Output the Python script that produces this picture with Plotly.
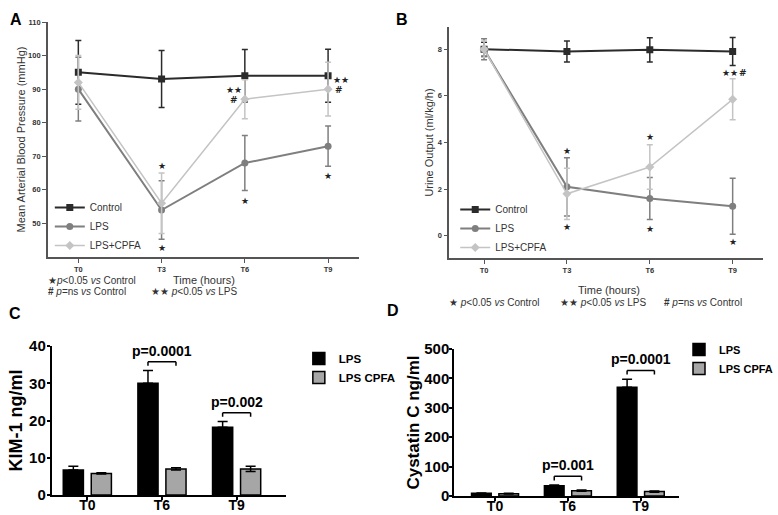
import plotly.graph_objects as go

times = [0, 3, 6, 9]
time_labels = ['T0', 'T3', 'T6', 'T9']

# A - mean arterial blood pressure (mmHg)
map_control = [95, 93, 94, 94]
map_control_err = [9.5, 8.5, 7.8, 7.9]
map_lps = [90, 54, 68, 73]
map_lps_err = [9.5, 8.7, 8.2, 6]
map_cpfa = [92, 56, 87, 90]
map_cpfa_err = [8, 9, 5.8, 8]

# B - urine output (ml/kg/h)
uo_control = [8.0, 7.9, 7.97, 7.9]
uo_control_err = [0.3, 0.45, 0.52, 0.6]
uo_lps = [8.0, 2.1, 1.6, 1.27]
uo_lps_err = [0.45, 1.25, 0.9, 1.2]
uo_cpfa = [8.0, 1.8, 2.95, 5.85]
uo_cpfa_err = [0.35, 1.1, 0.95, 0.88]

# C / D - biomarkers
bar_groups = ['T0', 'T6', 'T9']
kim_lps = [6.7, 30, 18.2]
kim_lps_err = [1.0, 3.4, 1.5]
kim_cpfa = [5.8, 7, 7]
kim_cpfa_err = [0.15, 0.3, 0.7]
kim_p = ['', 'p=0.0001', 'p=0.002']

cys_lps = [9, 35, 370]
cys_lps_err = [1, 2, 27]
cys_cpfa = [8, 18, 15]
cys_cpfa_err = [1, 2, 2]
cys_p = ['', 'p=0.001', 'p=0.0001']

C_DARK = '#2b2b2b'
C_MID = '#7f7f7f'
C_LIGHT = '#c4c4c4'
FONT = 'Arial, Liberation Sans, sans-serif'

W, H = 778, 515


def px(x):
    return x / W


def py(y):
    return 1 - y / H


fig = go.Figure()


def line_trace(y, err, name, color, symbol, xa, ya, leg, width=2):
    return go.Scatter(
        x=times, y=y, name=name, mode='lines+markers',
        line=dict(color=color, width=width),
        marker=dict(color=color, symbol=symbol, size=7),
        error_y=dict(type='data', array=err, color=color, thickness=1.5, width=3),
        xaxis=xa, yaxis=ya, legend=leg,
    )


for xa, ya, leg, data in [
    ('x', 'y', 'legend', [(map_control, map_control_err), (map_lps, map_lps_err), (map_cpfa, map_cpfa_err)]),
    ('x2', 'y2', 'legend4', [(uo_control, uo_control_err), (uo_lps, uo_lps_err), (uo_cpfa, uo_cpfa_err)]),
]:
    fig.add_trace(line_trace(data[0][0], data[0][1], 'Control', C_DARK, 'square', xa, ya, leg))
    fig.add_trace(line_trace(data[1][0], data[1][1], 'LPS', C_MID, 'circle', xa, ya, leg))
    fig.add_trace(line_trace(data[2][0], data[2][1], 'LPS+CPFA', C_LIGHT, 'diamond', xa, ya, leg, 1.5))

# bar panels
for xa, ya, leg, lps, lps_err, cpfa, cpfa_err in [
    ('x3', 'y3', 'legend2', kim_lps, kim_lps_err, kim_cpfa, kim_cpfa_err),
    ('x4', 'y4', 'legend3', cys_lps, cys_lps_err, cys_cpfa, cys_cpfa_err),
]:
    fig.add_trace(go.Bar(
        x=bar_groups, y=lps, name='LPS', xaxis=xa, yaxis=ya, legend=leg,
        marker=dict(color='black', line=dict(color='black', width=1.5)),
        error_y=dict(type='data', symmetric=False, array=lps_err, arrayminus=[0, 0, 0],
                     color='black', thickness=1.5, width=5),
    ))
    fig.add_trace(go.Bar(
        x=bar_groups, y=cpfa, name='LPS CPFA', xaxis=xa, yaxis=ya, legend=leg,
        marker=dict(color='#a6a6a6', line=dict(color='black', width=1.5)),
        error_y=dict(type='data', array=cpfa_err, color='black', thickness=1.5, width=5),
    ))

bargap = 0.25
off = (1 - bargap) / 4

# p-value brackets
for xr, yr, lps, lps_err, cpfa, cpfa_err, labels, ymax in [
    ('x3', 'y3', kim_lps, kim_lps_err, kim_cpfa, kim_cpfa_err, kim_p, 40),
    ('x4', 'y4', cys_lps, cys_lps_err, cys_cpfa, cys_cpfa_err, cys_p, 500),
]:
    for i, lab in enumerate(labels):
        if not lab:
            continue
        top = max(lps[i] + lps_err[i], cpfa[i] + cpfa_err[i])
        yb = top + 0.06 * ymax
        yd = yb - 0.028 * ymax
        for x0, y0, x1, y1 in [(i - off, yd, i - off, yb), (i - off, yb, i + off, yb), (i + off, yb, i + off, yd)]:
            fig.add_shape(type='line', xref=xr, yref=yr, x0=x0, y0=y0, x1=x1, y1=y1,
                          line=dict(color='black', width=1.5))
        fig.add_annotation(x=i, y=yb, xref=xr, yref=yr, text='<b>%s</b>' % lab, showarrow=False,
                           yanchor='bottom', yshift=1, font=dict(size=14, color='black', family=FONT))

# significance marks in A and B
STAR = '★'
marks_a = [
    (3, map_cpfa[1] + map_cpfa_err[1] + 2, STAR),
    (3, map_lps[1] - map_lps_err[1] - 2.5, STAR),
    (6, map_lps[2] - map_lps_err[2] - 3, STAR),
    (9, map_lps[3] - map_lps_err[3] - 3, STAR),
    (5.6, 89.8, STAR + STAR),
    (5.6, 86.8, '<b>#</b>'),
    (9.45, 92.7, STAR + STAR),
    (9.38, 89.7, '<b>#</b>'),
]
for x, y, t in marks_a:
    fig.add_annotation(x=x, y=y, xref='x', yref='y', text=t, showarrow=False,
                       font=dict(size=9, color='#222', family='DejaVu Sans'))

marks_b = [
    (3, uo_lps[1] + uo_lps_err[1] + 0.3, STAR),
    (3, uo_cpfa[1] - uo_cpfa_err[1] - 0.32, STAR),
    (6, uo_cpfa[2] + uo_cpfa_err[2] + 0.35, STAR),
    (6, uo_lps[2] - uo_lps_err[2] - 0.4, STAR),
    (9, uo_lps[3] - uo_lps_err[3] - 0.35, STAR),
    (8.9, 6.96, STAR + STAR),
    (9.38, 6.96, '<b>#</b>'),
]
for x, y, t in marks_b:
    fig.add_annotation(x=x, y=y, xref='x2', yref='y2', text=t, showarrow=False,
                       font=dict(size=9, color='#222', family='DejaVu Sans'))

# footnotes
foot_font = dict(size=10, color='#333', family=FONT)
title_font = dict(size=11, color='#333', family=FONT)
footnotes = [
    (46, 280, 'left', STAR + '<i>p</i>&lt;0.05 <i>vs</i> Control', foot_font),
    (46, 291, 'left', '<b>#</b> <i>p</i>=ns <i>vs</i> Control', foot_font),
    (150, 291, 'left', STAR + STAR + ' <i>p</i>&lt;0.05 <i>vs</i> LPS', foot_font),
    (205, 280, 'center', 'Time (hours)', title_font),
    (611, 290, 'center', 'Time (hours)', title_font),
    (449, 302, 'left', STAR + ' <i>p</i>&lt;0.05 <i>vs</i> Control', foot_font),
    (560, 302, 'left', STAR + STAR + ' <i>p</i>&lt;0.05 <i>vs</i> LPS', foot_font),
    (665, 302, 'left', '<b>#</b> <i>p</i>=ns <i>vs</i> Control', foot_font),
]
for fx, fy, anchor, text, font in footnotes:
    fig.add_annotation(x=px(fx), y=py(fy), xref='paper', yref='paper', xanchor=anchor,
                       text=text, showarrow=False, font=font)

# panel letters
for lx, ly, letter in [(8, 9, 'A'), (404, 9, 'B'), (7, 313, 'C'), (395, 310, 'D')]:
    fig.add_annotation(x=px(lx), y=py(ly), xref='paper', yref='paper', text='<b>%s</b>' % letter,
                       showarrow=False, font=dict(size=16, color='black', family=FONT))

small_ticks = dict(family=FONT, size=7.5, color='#333', weight='bold')
line_axis = dict(showline=True, linecolor='#555', linewidth=1.5, ticks='outside', ticklen=4,
                 tickcolor='#555', showgrid=False, zeroline=False, automargin=False)
bar_axis = dict(showline=True, linecolor='black', linewidth=2, ticks='outside', ticklen=3,
                tickcolor='black', tickwidth=1.5, showgrid=False, zeroline=False, automargin=False,
                tickfont=dict(family=FONT, size=15, color='black', weight='bold'))
bar_xticks = dict(family=FONT, size=14, color='black', weight='bold')
legend_base = dict(xanchor='left', yanchor='top', bgcolor='rgba(0,0,0,0)', tracegroupgap=0, itemwidth=30)

fig.update_layout(
    width=W, height=H,
    margin=dict(l=0, r=0, t=0, b=0),
    plot_bgcolor='white', paper_bgcolor='white',
    font=dict(family=FONT),
    barmode='group', bargap=bargap, bargroupgap=0.28,
    xaxis=dict(domain=[px(48), px(360)], range=[-1.1, 10.1], tickvals=times, ticktext=time_labels,
               tickfont=small_ticks, anchor='y', **line_axis),
    yaxis=dict(domain=[py(257), py(22)], range=[40, 110], tickvals=[50, 60, 70, 80, 90, 100, 110],
               tickfont=small_ticks, anchor='x',
               title=dict(text='Mean Arterial Blood Pressure (mmHg)', standoff=0, font=title_font),
               **line_axis),
    xaxis2=dict(domain=[px(451), px(766)], range=[-1.26, 10.1], tickvals=times, ticktext=time_labels,
                tickfont=small_ticks, anchor='y2', **line_axis),
    yaxis2=dict(domain=[py(258), py(27)], range=[-0.95, 8.95], tickvals=[0, 2, 4, 6, 8],
                tickfont=small_ticks, anchor='x2',
                title=dict(text='Urine Output (ml/kg/h)', standoff=2, font=title_font), **line_axis),
    xaxis3=dict(domain=[px(52), px(287)], range=[-0.476, 2.66], anchor='y3', ticklabelstandoff=-7,
                **{**bar_axis, 'tickfont': bar_xticks}),
    yaxis3=dict(domain=[py(495), py(346)], range=[0, 40], tickvals=[0, 10, 20, 30, 40], anchor='x3',
                ticklabelstandoff=-2,
                title=dict(text='<b>KIM-1 ng/ml</b>', standoff=2,
                           font=dict(size=18, color='black', family=FONT)), **bar_axis),
    xaxis4=dict(domain=[px(456), px(682)], range=[-0.56, 2.53], anchor='y4', ticklabelstandoff=-7,
                **{**bar_axis, 'tickfont': bar_xticks}),
    yaxis4=dict(domain=[py(496), py(349)], range=[0, 500], tickvals=[0, 100, 200, 300, 400, 500],
                anchor='x4', ticklabelstandoff=-3,
                title=dict(text='<b>Cystatin C ng/ml</b>', standoff=0,
                           font=dict(size=17, color='black', family=FONT)), **bar_axis),
    legend=dict(x=px(50), y=py(193), font=dict(size=10, color='#333'), **legend_base),
    legend4=dict(x=px(457), y=py(195), font=dict(size=10, color='#333'), **legend_base),
    legend2=dict(x=px(300), y=py(344), font=dict(size=11.5, color='black', weight='bold'), **legend_base),
    legend3=dict(x=px(682), y=py(335), font=dict(size=11, color='black', weight='bold'), **legend_base),
)

# drop the default 8px body margin so the figure fills the window exactly
fig.write_html('out.html', config={'displayModeBar': False},
               post_script="document.body.style.margin='0';document.body.style.overflow='hidden';")
